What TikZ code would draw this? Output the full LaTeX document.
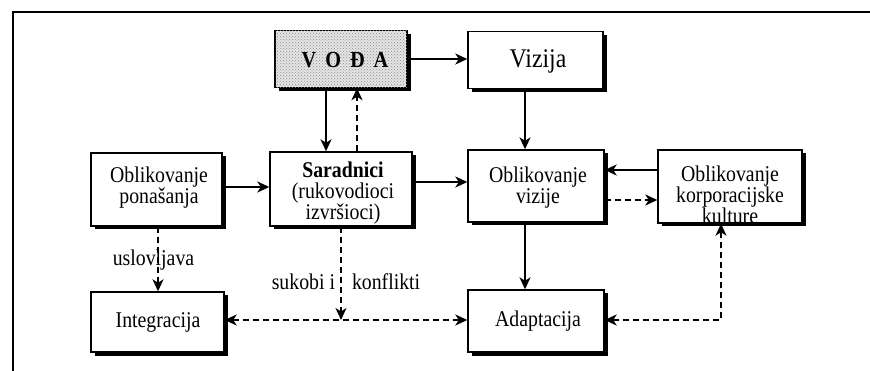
\documentclass[tikz,border=0pt]{standalone}
\usepackage{fontspec}
\setmainfont{Liberation Serif}[FakeStretch=0.88]
\usetikzlibrary{arrows.meta,shadows,patterns}
\begin{document}
\begin{tikzpicture}[x=1pt,y=-1pt,
  box/.style={draw=black,line width=1.4pt,fill=white,inner sep=0pt,
    drop shadow={shadow xshift=3.5pt,shadow yshift=-3.5pt,fill=black,opacity=1}},
  txt/.style={align=center,inner sep=0pt,font=\fontsize{22.5}{21}\selectfont},
  lbl/.style={inner sep=0pt,font=\fontsize{22.5}{21}\selectfont},
  tip/.style={Stealth[length=12pt,width=11pt,inset=3.5pt]},
  conn/.style={line width=1.5pt,-{Stealth[length=12pt,width=11pt,inset=3.5pt]}},
  dconn/.style={conn,dash pattern=on 6pt off 4pt},
  ddconn/.style={line width=1.5pt,dash pattern=on 6pt off 4pt,
    {Stealth[length=12pt,width=11pt,inset=3.5pt]}-{Stealth[length=12pt,width=11pt,inset=3.5pt]}}
]
\useasboundingbox (0,0) rectangle (870,371);
% frame
\draw[line width=1.1pt] (870,12) -- (13,12) -- (13,371);

% boxes
\node[box,minimum width=132pt,minimum height=57pt,fill=black!10,
  postaction={pattern=crosshatch dots,pattern color=black!45}] (voda) at (341,59) {};
\node[txt,font=\fontsize{23}{21}\selectfont\bfseries] (vodat) at (345,60) {V\hspace{9pt}O\hspace{9pt}Đ\hspace{9pt}A};
\node[box,minimum width=135pt,minimum height=57pt] (vizija) at (535.5,60) {};
\node[txt,font=\fontsize{27}{28}\selectfont] (vizijat) at (538,61) {Vizija};
\node[box,minimum width=131pt,minimum height=73pt] (ponas) at (156.5,189.5) {};
\node[txt] (ponast) at (159,188) {Oblikovanje\\ponašanja};
\node[box,minimum width=142pt,minimum height=74pt] (sarad) at (341,189) {};
\node[txt] (saradt) at (343,193) {\textbf{Saradnici}\\(rukovodioci\\izvršioci)};
\node[box,minimum width=136pt,minimum height=72pt] (oviz) at (536,186) {};
\node[txt] (ovizt) at (538,188) {Oblikovanje\\vizije};
\node[box,minimum width=144pt,minimum height=73pt] (kultura) at (730,186.5) {};
\node[txt] (kulturat) at (730,195) {Oblikovanje\\korporacijske\\kulture};
\node[box,minimum width=133pt,minimum height=60pt] (integ) at (157.5,322) {};
\node[txt] (integt) at (158,322) {Integracija};
\node[box,minimum width=136pt,minimum height=62pt] (adapt) at (536,321) {};
\node[txt] (adaptt) at (538,321) {Adaptacija};

% connectors
\draw[conn] (voda.east |- 0,59) -- (vizija.west |- 0,59);
\draw[conn] (voda.south -| 326,0) -- (sarad.north -| 326,0);
\draw[dconn] (sarad.north -| 357,0) -- (voda.south -| 357,0);
\draw[conn] (vizija.south -| 525,0) -- (oviz.north -| 525,0);
\draw[conn] (ponas.east |- 0,187) -- (sarad.west |- 0,187);
\draw[conn] (sarad.east |- 0,182) -- (oviz.west |- 0,182);
\draw[conn] (kultura.west |- 0,170) -- (oviz.east |- 0,170);
\draw[dconn] (oviz.east |- 0,200) -- (kultura.west |- 0,200);
\draw[conn] (oviz.south -| 525,0) -- (adapt.north -| 525,0);
\draw[dconn] (ponas.south -| 158,0) -- (integ.north -| 158,0);
\node[lbl,anchor=base] (uslov) at (153.5,266) {uslovljava};
\coordinate (mid) at (341,320);
\draw[dconn] (sarad.south -| mid) -- (mid);
\node[lbl,anchor=base] (sukobi) at (346,290) {sukobi i\hspace{17pt}konflikti};
\draw[ddconn] (integ.east |- mid) -- (adapt.west |- mid);
\draw[ddconn] (adapt.east |- mid) -| (kultura.south -| 721,0);
\end{tikzpicture}
\end{document}
